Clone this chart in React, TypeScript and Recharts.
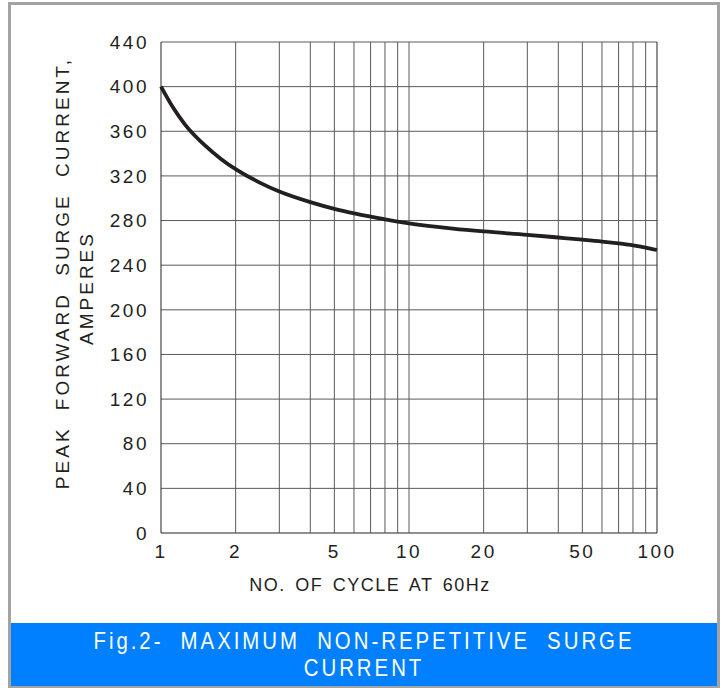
import React from "react"
import {
  Line,
  LineChart,
  ReferenceLine,
  XAxis,
  YAxis,
} from "recharts"

// surge current curve (cycles at 60Hz vs amperes)
const cycles = [1, 1.12, 1.25, 1.5, 1.75, 2, 2.5, 3, 4, 5, 6, 7, 8, 10, 15, 20, 30, 40, 50, 60, 70, 80, 90, 100]
const amperes = [400, 381, 366, 347.5, 335, 326, 314, 306, 296.5, 290.5, 286.5, 283.5, 281, 277.5, 272.8, 270.2, 267.2, 264.8, 262.9, 261.2, 259.5, 257.8, 255.8, 253.6]

const xTicks = [1, 2, 5, 10, 20, 50, 100]
const yTicks = [0, 40, 80, 120, 160, 200, 240, 280, 320, 360, 400, 440]
const xGrid = [2, 3, 4, 5, 6, 7, 8, 9, 10, 20, 30, 40, 50, 60, 70, 80, 90]

const data = cycles.map((x, i) => ({ x, y: amperes[i] }))

const textFont = "'Liberation Sans', Arial, Helvetica, sans-serif"
const tickStyle = {
  fontSize: 19,
  fill: "#231f20",
  fontFamily: textFont,
  letterSpacing: 2.5,
}
const gridStroke = "#5a5a5a"

const captionLine: React.CSSProperties = {
  height: 27,
  transform: "scaleX(0.85)",
  transformOrigin: "50% 50%",
  whiteSpace: "nowrap",
}

export default function App() {
  return (
    <div
      style={{
        position: "fixed",
        left: 0,
        top: 0,
        width: 725,
        height: 688,
        background: "#fff",
        overflow: "hidden",
      }}
    >
      <div
        style={{
          position: "absolute",
          left: 8,
          top: 2,
          width: 712,
          height: 686,
          border: "3px solid #a3a3a3",
          boxSizing: "border-box",
        }}
      />

      <div style={{ position: "absolute", left: 0, top: 0 }}>
        <LineChart
          width={725}
          height={688}
          data={data}
          margin={{ top: 42, right: 68, left: 101, bottom: 125 }}
        >
          <XAxis
            dataKey="x"
            type="number"
            scale="log"
            domain={[1, 100]}
            ticks={xTicks}
            interval={0}
            height={30}
            tickLine={false}
            axisLine={false}
            tickMargin={6}
            tick={tickStyle}
          />
          <YAxis
            type="number"
            domain={[0, 440]}
            ticks={yTicks}
            interval={0}
            width={60}
            tickLine={false}
            axisLine={false}
            tickMargin={6}
            tick={tickStyle}
          />
          {yTicks.map((v) => (
            <ReferenceLine
              key={`h-${v}`}
              y={v}
              stroke={v === 0 ? "#222" : gridStroke}
              strokeWidth={1}
            />
          ))}
          {xGrid.map((v) => (
            <ReferenceLine key={`v-${v}`} x={v} stroke={gridStroke} strokeWidth={1} />
          ))}
          <ReferenceLine x={1} stroke="#222" strokeWidth={1} />
          <ReferenceLine x={100} stroke="#222" strokeWidth={1} />
          <Line
            type="monotone"
            dataKey="y"
            stroke="#231f20"
            strokeWidth={3.8}
            dot={false}
            isAnimationActive={false}
          />
        </LineChart>
      </div>

      <div
        style={{
          position: "absolute",
          left: 62,
          top: 273,
          transform: "translate(-50%, -50%) rotate(-90deg)",
          whiteSpace: "nowrap",
          fontFamily: textFont,
          fontSize: 19,
          letterSpacing: 3,
          wordSpacing: 8,
          color: "#231f20",
          lineHeight: 1,
        }}
      >
        PEAK FORWARD SURGE CURRENT,
      </div>
      <div
        style={{
          position: "absolute",
          left: 86,
          top: 288,
          transform: "translate(-50%, -50%) rotate(-90deg)",
          whiteSpace: "nowrap",
          fontFamily: textFont,
          fontSize: 19,
          letterSpacing: 3,
          color: "#231f20",
          lineHeight: 1,
        }}
      >
        AMPERES
      </div>

      <div
        style={{
          position: "absolute",
          left: 0,
          width: 740,
          top: 576,
          textAlign: "center",
          whiteSpace: "nowrap",
          fontFamily: textFont,
          fontSize: 18,
          letterSpacing: 1.5,
          wordSpacing: 3,
          color: "#231f20",
          lineHeight: 1.1,
        }}
      >
        NO. OF CYCLE AT 60Hz
      </div>

      <div
        style={{
          position: "absolute",
          left: 11,
          top: 623,
          width: 706,
          height: 63,
          background: "#0080ff",
          color: "#fff",
          textAlign: "center",
          fontFamily: textFont,
          fontSize: 24,
          letterSpacing: 3.5,
          wordSpacing: 10,
          lineHeight: "27px",
          paddingTop: 4,
          boxSizing: "border-box",
        }}
      >
        <div style={captionLine}>Fig.2- MAXIMUM NON-REPETITIVE SURGE</div>
        <div style={captionLine}>CURRENT</div>
      </div>
    </div>
  )
}
